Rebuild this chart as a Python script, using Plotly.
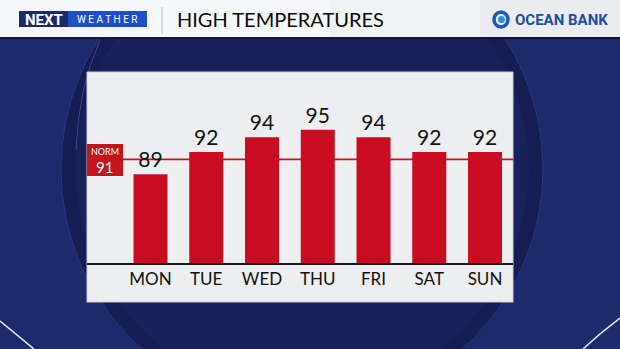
import plotly.graph_objects as go

# ---- data ----
days = ["MON", "TUE", "WED", "THU", "FRI", "SAT", "SUN"]
highs = [89, 92, 94, 95, 94, 92, 92]
normal_high = 91
title_text = "HIGH TEMPERATURES"

W, H = 620, 349

def px(x):
    return x / W

def py(y):
    return 1 - y / H

# panel / plot geometry (pixels)
P_L, P_R, P_T, P_B = 87, 513, 72, 302
BASE_Y = 263
Y_MIN, Y_MAX = 77, 102.8
X_MIN, X_MAX = -1.139, 6.502

fig = go.Figure()
fig.add_trace(go.Bar(
    x=days, y=highs,
    width=0.61,
    marker=dict(color="#c90c22", line=dict(width=0)),
    text=[str(v) for v in highs],
    textposition="outside",
    textfont=dict(family="Lato", size=21, color="#111111"),
    cliponaxis=False,
    hoverinfo="skip",
))

shapes = []
# background big circle
cx, cy, R = 302, 169, 241
shapes.append(dict(type="circle", xref="paper", yref="paper", x0=px(cx - R), x1=px(cx + R),
                   y0=py(cy + R), y1=py(cy - R), fillcolor="#151d52",
                   line=dict(color="#2a3680", width=1), layer="below"))
shapes.append(dict(type="circle", xref="paper", yref="paper", x0=px(cx - R + 14), x1=px(cx + R - 14),
                   y0=py(cy + R - 14), y1=py(cy - R + 14), fillcolor="#18215a",
                   line=dict(width=0), layer="below"))
# faint arcs / white streaks
shapes.append(dict(type="path", xref="paper", yref="paper",
                   path=f"M {px(0)},{py(321)} Q {px(16)},{py(334)} {px(34)},{py(349)}",
                   line=dict(color="#e8ecff", width=1.5), layer="below"))
shapes.append(dict(type="path", xref="paper", yref="paper",
                   path=f"M {px(583)},{py(349)} Q {px(600)},{py(333)} {px(620)},{py(318)}",
                   line=dict(color="#e8ecff", width=1.5), layer="below"))
shapes.append(dict(type="path", xref="paper", yref="paper",
                   path=f"M {px(100)},{py(40)} Q {px(78)},{py(90)} {px(76)},{py(150)}",
                   line=dict(color="#3a4690", width=1), layer="below"))
# header
shapes.append(dict(type="rect", xref="paper", yref="paper", x0=0, x1=1, y0=py(37), y1=1,
                   fillcolor="#f6f7f8", line=dict(width=0), layer="below"))
shapes.append(dict(type="rect", xref="paper", yref="paper", x0=px(330), x1=1, y0=py(37), y1=1,
                   fillcolor="#eff0f2", line=dict(width=0), layer="below", opacity=0.7))
shapes.append(dict(type="rect", xref="paper", yref="paper", x0=px(480), x1=1, y0=py(37), y1=1,
                   fillcolor="#e8eaed", line=dict(width=0), layer="below", opacity=0.7))
shapes.append(dict(type="rect", xref="paper", yref="paper", x0=0, x1=1, y0=py(39), y1=py(37),
                   fillcolor="#10173d", line=dict(width=0), layer="below"))
# logo boxes
shapes.append(dict(type="rect", xref="paper", yref="paper", x0=px(19), x1=px(68), y0=py(27), y1=py(11),
                   fillcolor="#1c2a6c", line=dict(width=0), layer="below"))
shapes.append(dict(type="rect", xref="paper", yref="paper", x0=px(68), x1=px(147), y0=py(27), y1=py(11),
                   fillcolor="#1f4fc4", line=dict(width=0), layer="below"))
# divider
shapes.append(dict(type="line", xref="paper", yref="paper", x0=px(162), x1=px(162), y0=py(34), y1=py(7),
                   line=dict(color="#b9bcc2", width=1), layer="below"))
# ocean bank icon
shapes.append(dict(type="circle", xref="paper", yref="paper", x0=px(494), x1=px(508), y0=py(27), y1=py(12),
                   fillcolor="rgba(0,0,0,0)", line=dict(color="#1a5bb8", width=3.5), layer="below"))
shapes.append(dict(type="circle", xref="paper", yref="paper", x0=px(498), x1=px(505), y0=py(23), y1=py(16),
                   fillcolor="#2f8fd8", line=dict(width=0), layer="below"))
# panel
shapes.append(dict(type="rect", xref="paper", yref="paper", x0=px(P_L), x1=px(P_R), y0=py(P_B), y1=py(P_T),
                   fillcolor="#eceef0", line=dict(color="#c9ced6", width=1), layer="below"))
# norm line
shapes.append(dict(type="line", xref="paper", yref="y", x0=px(123), x1=px(P_R), y0=normal_high, y1=normal_high,
                   line=dict(color="#d0101e", width=1.6), layer="below"))
# norm box
shapes.append(dict(type="rect", xref="paper", yref="paper", x0=px(87), x1=px(123), y0=py(176), y1=py(144),
                   fillcolor="#c4141c", line=dict(width=0), layer="above"))
fig.update_layout(shapes=shapes)

ann = []
ann.append(dict(text="<b>NEXT</b>", x=px(43.5), y=py(19.5), xref="paper", yref="paper",
                showarrow=False, font=dict(family="Roboto", size=15, color="white"), xanchor="center", yanchor="middle"))
ann.append(dict(text="W E A T H E R", x=px(107), y=py(19.5), xref="paper", yref="paper",
                showarrow=False, font=dict(family="Roboto", size=10, color="white"), xanchor="center", yanchor="middle"))
ann.append(dict(text=title_text, x=px(175), y=py(19), xref="paper", yref="paper",
                showarrow=False, font=dict(family="Lato", size=20, color="#0a0a0a"), xanchor="left", yanchor="middle"))
ann.append(dict(text="<b>OCEAN BANK</b>", x=px(513), y=py(19.5), xref="paper", yref="paper",
                showarrow=False, font=dict(family="Roboto", size=15, color="#1b4f9f"), xanchor="left", yanchor="middle"))
ann.append(dict(text="NORM", x=px(105), y=py(151), xref="paper", yref="paper",
                showarrow=False, font=dict(family="Lato", size=9, color="white"), xanchor="center", yanchor="middle",
                borderpad=0))
ann.append(dict(text=str(normal_high), x=px(105), y=py(167), xref="paper", yref="paper",
                showarrow=False, font=dict(family="Lato", size=15, color="white"), xanchor="center", yanchor="middle",
                borderpad=0))
fig.update_layout(annotations=ann)

fig.update_layout(
    width=W, height=H,
    margin=dict(l=0, r=0, t=0, b=0),
    paper_bgcolor="#1d2a6c",
    plot_bgcolor="rgba(0,0,0,0)",
    showlegend=False,
    xaxis=dict(domain=[px(P_L), px(P_R)], range=[X_MIN, X_MAX], type="category",
               showline=True, linecolor="#1a1a1a", linewidth=2, showgrid=False, zeroline=False,
               ticks="", tickfont=dict(family="Lato", size=17, color="#111111"), fixedrange=True),
    yaxis=dict(domain=[py(BASE_Y), py(P_T)], range=[Y_MIN, Y_MAX], visible=False, showgrid=False,
               fixedrange=True),
)

fig.write_html("out.html")
